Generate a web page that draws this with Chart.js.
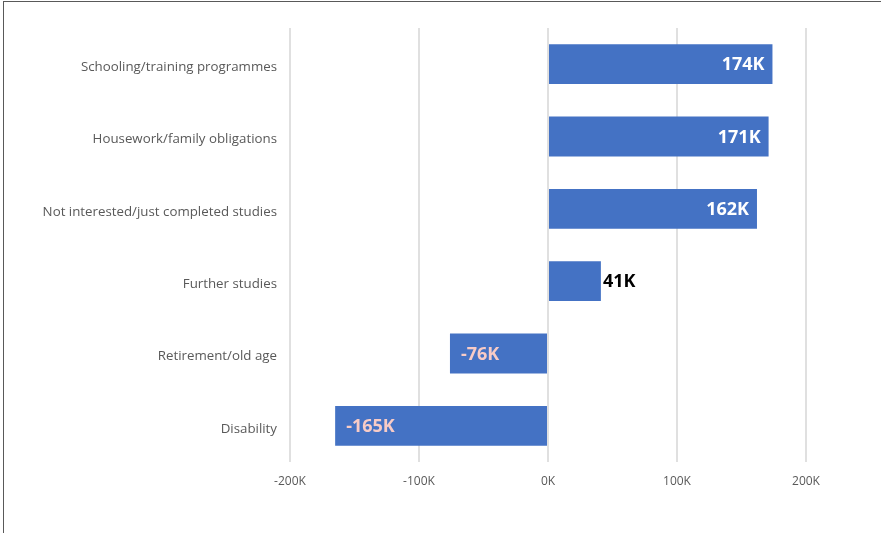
<!DOCTYPE html>
<html>
<head>
<meta charset="utf-8">
<script src="https://cdn.jsdelivr.net/npm/chart.js@4"></script>
<style>
  body { margin: 0; background: #fff; }
  #wrap { position: relative; width: 881px; height: 533px; overflow: hidden; }
  #frame { position: absolute; left: 3px; top: 1px; width: 900px; height: 560px; border: 1px solid #595959; pointer-events: none; }
  canvas { position: absolute; left: 0; top: 0; }
</style>
</head>
<body>
<div id="wrap">
  <canvas id="chart" width="881" height="533"></canvas>
  <div id="frame"></div>
</div>
<script>
const categories = [
  'Schooling/training programmes',
  'Housework/family obligations',
  'Not interested/just completed studies',
  'Further studies',
  'Retirement/old age',
  'Disability'
];
const values = [174000, 171000, 162000, 41000, -76000, -165000];
const xTicks = [-200000, -100000, 0, 100000, 200000];

const fmtK = v => Math.round(v / 1000) + 'K';

// bar value labels drawn after the bars
const valueLabels = {
  id: 'valueLabels',
  afterDatasetsDraw(chart) {
    const ctx = chart.ctx;
    const meta = chart.getDatasetMeta(0);
    ctx.save();
    ctx.font = 'bold 18px "Open Sans"';
    ctx.textBaseline = 'middle';
    meta.data.forEach((bar, i) => {
      const v = values[i];
      const txt = fmtK(v);
      const w = ctx.measureText(txt).width;
      if (v < 0) {
        ctx.fillStyle = '#F8CBC6';
        ctx.textAlign = 'left';
        ctx.fillText(txt, bar.x + 11, bar.y + 1);
      } else if (Math.abs(bar.x - bar.base) > w + 40) {
        ctx.fillStyle = '#ffffff';
        ctx.textAlign = 'right';
        ctx.fillText(txt, bar.x - 8, bar.y + 1);
      } else {
        ctx.fillStyle = '#000000';
        ctx.textAlign = 'left';
        ctx.fillText(txt, bar.x + 2, bar.y + 1);
      }
    });
    ctx.restore();
  }
};

new Chart(document.getElementById('chart'), {
  type: 'bar',
  data: {
    labels: categories,
    datasets: [{
      data: values,
      backgroundColor: '#4472C4',
      borderWidth: 0,
      categoryPercentage: 1,
      barPercentage: 0.55
    }]
  },
  options: {
    indexAxis: 'y',
    responsive: false,
    animation: false,
    layout: { padding: { top: 28, right: 75, left: 0, bottom: 0 } },
    plugins: { legend: { display: false }, tooltip: { enabled: false } },
    scales: {
      x: {
        min: xTicks[0],
        max: xTicks[xTicks.length - 1],
        afterBuildTicks: scale => { scale.ticks = xTicks.map(v => ({ value: v })); },
        afterFit: scale => { scale.height = 71; },
        grid: { color: '#e0e0e0', lineWidth: 2, drawTicks: false },
        border: { display: false },
        ticks: {
          padding: 12,
          color: '#595959',
          font: { family: 'Open Sans', size: 12 },
          callback: v => fmtK(v)
        }
      },
      y: {
        afterFit: scale => { scale.width = 290; },
        grid: { display: false, drawTicks: false },
        border: { display: false },
        ticks: {
          padding: 13,
          labelOffset: 3,
          color: '#595959',
          font: { family: 'Open Sans', size: 13.3 }
        }
      }
    }
  },
  plugins: [valueLabels]
});
</script>
</body>
</html>
